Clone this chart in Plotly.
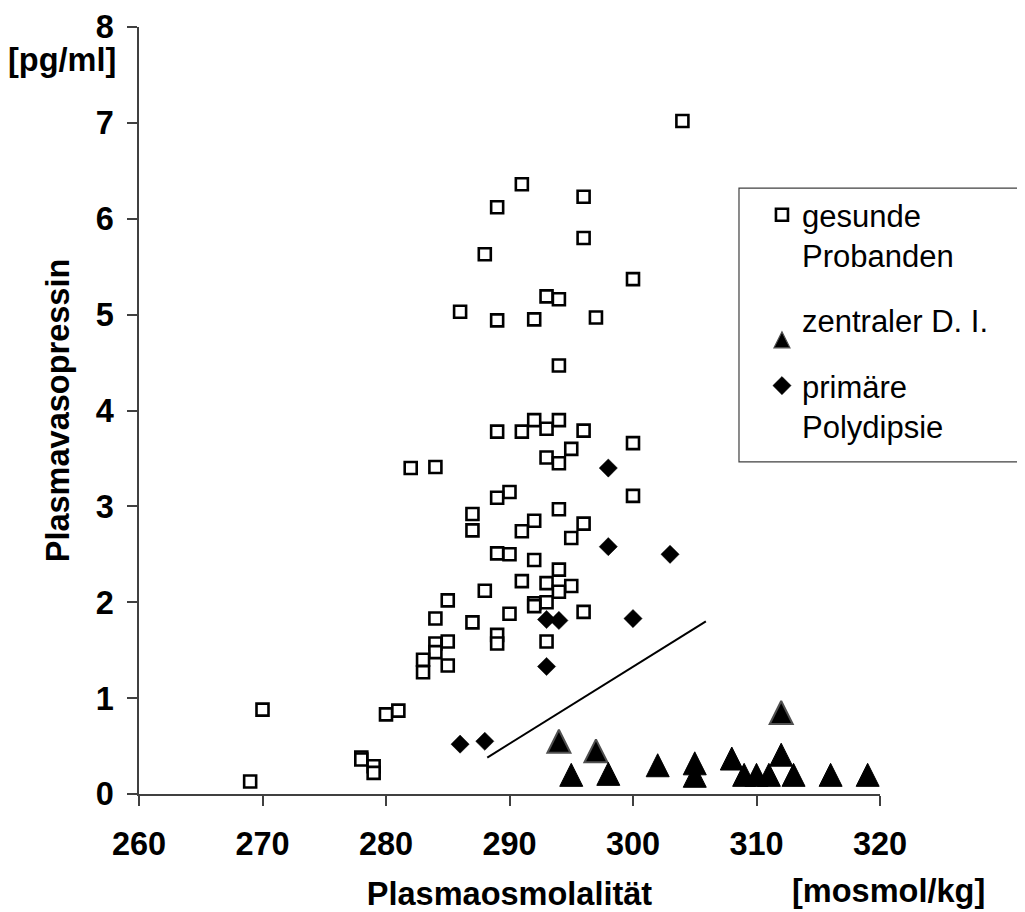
import plotly.graph_objects as go

# gesunde Probanden (open squares)
healthy_x = [304, 291, 296, 289, 296, 288, 300, 293, 294, 286, 289, 292, 297, 294,
             289, 291, 292, 293, 294, 296, 300, 295, 293, 294, 282, 284, 290, 289,
             300, 287, 287, 294, 292, 291, 296, 295, 289, 290, 292, 294, 291, 293,
             295, 294, 288, 285, 292, 293, 292, 284, 287, 290, 296, 289, 289, 293,
             284, 285, 284, 283, 283, 285, 270, 280, 281, 278, 278, 279, 279, 269]
healthy_y = [7.02, 6.36, 6.23, 6.12, 5.80, 5.63, 5.37, 5.19, 5.16, 5.03, 4.94, 4.95, 4.97, 4.47,
             3.78, 3.78, 3.90, 3.81, 3.90, 3.79, 3.66, 3.60, 3.51, 3.45, 3.40, 3.41, 3.15, 3.09,
             3.11, 2.92, 2.75, 2.97, 2.85, 2.74, 2.82, 2.67, 2.51, 2.50, 2.44, 2.34, 2.22, 2.20,
             2.17, 2.11, 2.12, 2.02, 1.99, 2.00, 1.96, 1.83, 1.79, 1.88, 1.90, 1.66, 1.57, 1.59,
             1.57, 1.59, 1.48, 1.40, 1.27, 1.34, 0.88, 0.83, 0.87, 0.38, 0.36, 0.29, 0.22, 0.13]

# zentraler Diabetes insipidus (filled triangles)
di_x = [294, 297, 312, 295, 298, 302, 305, 305, 308, 309, 310, 311, 312, 313, 316, 319]
di_y = [0.55, 0.45, 0.85, 0.20, 0.21, 0.30, 0.32, 0.19, 0.37, 0.20, 0.20, 0.20, 0.41, 0.20, 0.20, 0.20]
di_grey_edge = [True, True, True] + [False] * 13

# primäre Polydipsie (filled diamonds)
pp_x = [298, 298, 303, 293, 294, 300, 293, 286, 288]
pp_y = [3.40, 2.58, 2.50, 1.82, 1.81, 1.83, 1.33, 0.52, 0.55]

# reference line
line_x = [288.2, 305.9]
line_y = [0.38, 1.80]

x_ticks = [260, 270, 280, 290, 300, 310, 320]
y_ticks = [0, 1, 2, 3, 4, 5, 6, 7, 8]

FONT = "Liberation Sans, Arial, sans-serif"
BIG = 32.5

fig = go.Figure()
fig.add_trace(go.Scatter(
    x=line_x, y=line_y, mode="lines", showlegend=False,
    line=dict(color="black", width=2), hoverinfo="skip"))
fig.add_trace(go.Scatter(
    x=healthy_x, y=healthy_y, mode="markers", name="gesunde<br>Probanden",
    legendgroup="a",
    marker=dict(symbol="square", size=12, color="white",
                line=dict(color="black", width=2.6))))
fig.add_trace(go.Scatter(
    x=di_x, y=di_y, mode="markers", name="zentraler D. I.",
    legendgroup="b",
    marker=dict(symbol="arrow-down", angle=180, standoff=11.5, size=23, color="black",
                line=dict(color=["#505050" if g else "black" for g in di_grey_edge],
                          width=[2 if g else 1 for g in di_grey_edge]))))
fig.add_trace(go.Scatter(
    x=pp_x, y=pp_y, mode="markers", name="primäre<br>Polydipsie",
    legendgroup="c",
    marker=dict(symbol="diamond", size=14, color="black",
                line=dict(color="black", width=0.5))))

axis_common = dict(
    showline=True, linecolor="#404040", linewidth=1.5,
    ticks="outside", ticklen=10, tickcolor="#404040", tickwidth=1.5,
    showgrid=False, zeroline=False, automargin=False, ticklabeloverflow="allow",
    tickfont=dict(family=FONT, size=BIG, color="black", weight="bold"),
)

fig.update_layout(
    width=1017, height=904,
    margin=dict(l=131, r=145, t=19, b=118),
    paper_bgcolor="white", plot_bgcolor="white",
    font=dict(family=FONT, color="black"),
    xaxis=dict(range=[260, 320], tickvals=x_ticks, ticklabelstandoff=10,
               title=dict(text="Plasmaosmolalität", standoff=40,
                          font=dict(family=FONT, size=BIG, weight="bold")),
               **axis_common),
    yaxis=dict(range=[0, 8], tickvals=y_ticks, ticklabelstandoff=7,
               title=dict(text="Plasmavasopressin", standoff=16,
                          font=dict(family=FONT, size=BIG, weight="bold")),
               **axis_common),
    legend=dict(x=0.8407, xanchor="left", y=0.790, yanchor="top",
                valign="top", bgcolor="rgba(0,0,0,0)", borderwidth=0,
                traceorder="grouped", tracegroupgap=22,
                font=dict(family=FONT, size=31, color="black")),
    shapes=[dict(type="rect", xref="paper", yref="paper",
                 x0=0.8097, x1=1.193, y0=0.4329, y1=0.790,
                 line=dict(color="#404040", width=1.2), fillcolor="rgba(0,0,0,0)")],
    annotations=[
        dict(text="[pg/ml]", xref="paper", yref="paper", x=-0.1044, y=0.957,
             xanchor="center", yanchor="middle", showarrow=False,
             font=dict(family=FONT, size=BIG, weight="bold")),
        dict(text="[mosmol/kg]", xref="paper", yref="paper", x=1.012, y=-0.1265,
             xanchor="center", yanchor="middle", showarrow=False,
             font=dict(family=FONT, size=BIG, weight="bold")),
    ],
)

fig.write_html("out.html")
